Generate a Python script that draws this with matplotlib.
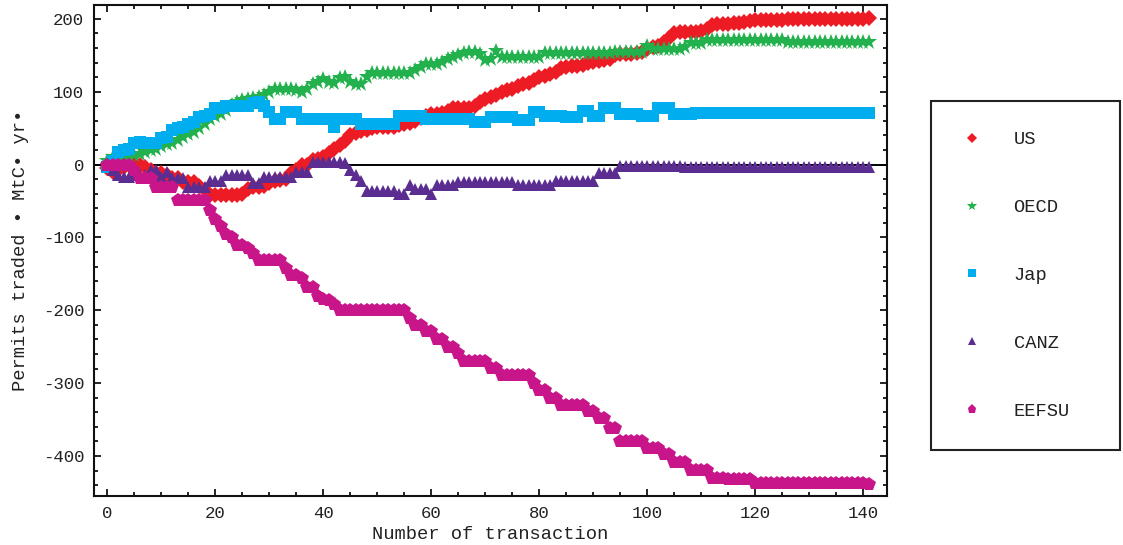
import matplotlib
matplotlib.use("Agg")
import matplotlib.pyplot as plt
from matplotlib.ticker import MultipleLocator
from matplotlib.lines import Line2D

# ---------------- data ----------------
transactions = list(range(142))

us = [-5, -10, -8, -3, 0, 0, 0, -3, -8, -12,
      -12, -15, -19, -19, -24, -24, -24, -30, -35, -42,
      -42, -42, -42, -42, -42, -40, -33, -31, -31, -30,
      -26, -22, -21, -20, -12, -8, 0, 0, 6, 8,
      10, 16, 22, 27, 32, 40, 43, 46, 48, 50,
      51, 51, 52, 52, 54, 55, 57, 60, 64, 67,
      70, 70, 71, 74, 77, 77, 77, 78, 80, 86,
      90, 93, 95, 99, 102, 104, 108, 110, 112, 116,
      120, 122, 124, 127, 132, 134, 135, 135, 136, 139,
      141, 142, 143, 145, 150, 152, 152, 152, 153, 154,
      158, 161, 163, 168, 174, 180, 182, 182, 182, 182,
      183, 186, 192, 193, 193, 193, 194, 194, 196, 197,
      198, 198, 198, 198, 198, 198, 200, 200, 200, 200,
      200, 200, 200, 200, 200, 200, 200, 200, 200, 200,
      200, 201]

oecd = [5, 10, 8, 10, 12, 13, 14, 17, 20, 22,
        25, 28, 30, 33, 38, 42, 45, 50, 55, 62,
        66, 70, 75, 82, 86, 88, 90, 92, 93, 96,
        100, 104, 104, 104, 104, 102, 99, 104, 110, 113,
        118, 113, 112, 119, 120, 113, 110, 111, 120, 125,
        125, 125, 125, 125, 125, 125, 125, 130, 134, 138,
        138, 138, 141, 145, 147, 150, 153, 154, 155, 152,
        143, 145, 156, 148, 148, 148, 148, 148, 148, 148,
        148, 153, 153, 153, 153, 153, 153, 153, 153, 153,
        153, 153, 153, 153, 155, 155, 155, 155, 155, 155,
        163, 158, 158, 158, 158, 158, 158, 162, 167, 167,
        167, 171, 171, 171, 171, 171, 171, 171, 171, 171,
        171, 171, 171, 171, 171, 171, 168, 168, 168, 168,
        168, 168, 168, 168, 168, 168, 168, 168, 168, 168,
        168, 168]

jap = [-3, 5, 17, 20, 22, 30, 31, 29, 29, 29,
       36, 38, 47, 50, 52, 56, 58, 65, 67, 70,
       77, 77, 81, 81, 81, 81, 81, 85, 86, 80,
       72, 63, 63, 72, 72, 72, 63, 63, 63, 63,
       63, 63, 52, 63, 63, 63, 63, 56, 56, 56,
       56, 56, 56, 56, 67, 67, 67, 67, 67, 63,
       63, 63, 63, 63, 63, 63, 63, 63, 58, 58,
       58, 65, 65, 65, 65, 65, 61, 61, 61, 72,
       72, 67, 67, 67, 67, 65, 65, 65, 74, 74,
       67, 67, 77, 77, 77, 70, 70, 70, 70, 67,
       67, 67, 77, 77, 77, 70, 70, 70, 70, 71,
       71, 71, 71, 71, 71, 71, 71, 71, 71, 71,
       71, 71, 71, 71, 71, 71, 71, 71, 71, 71,
       71, 71, 71, 71, 71, 71, 71, 71, 71, 71,
       71, 71]

canz = [0, -8, -15, -17, -17, -15, -15, -15, -8, -8,
        -17, -10, -19, -19, -19, -31, -31, -31, -31, -22,
        -22, -22, -15, -15, -15, -15, -15, -26, -26, -17,
        -17, -17, -17, -17, -17, -10, -10, -10, 4, 4,
        4, 4, 4, 4, 2, -8, -15, -22, -37, -37,
        -37, -37, -37, -37, -40, -40, -28, -33, -33, -33,
        -40, -28, -28, -28, -28, -24, -24, -24, -24, -24,
        -24, -24, -24, -24, -24, -24, -28, -28, -28, -28,
        -28, -28, -28, -22, -22, -22, -22, -22, -22, -22,
        -22, -12, -12, -12, -12, -2, -2, -2, -2, -2,
        -2, -2, -2, -2, -2, -2, -2, -4, -4, -4,
        -4, -4, -4, -4, -4, -4, -4, -4, -3, -4,
        -4, -4, -4, -4, -4, -4, -4, -4, -4, -4,
        -4, -4, -4, -4, -4, -4, -4, -4, -4, -4,
        -4, -4]

eefsu = [0, 0, 0, 0, 0, -8, -19, -19, -19, -31,
         -31, -31, -31, -49, -49, -49, -49, -49, -49, -62,
         -75, -85, -95, -100, -110, -110, -115, -122, -131, -131,
         -131, -131, -131, -142, -152, -152, -156, -168, -168, -181,
         -184, -186, -192, -200, -200, -200, -200, -200, -200, -200,
         -200, -200, -200, -200, -200, -200, -211, -220, -220, -229,
         -229, -239, -239, -250, -250, -259, -270, -270, -270, -270,
         -270, -279, -279, -289, -289, -289, -289, -289, -289, -300,
         -309, -309, -320, -320, -330, -330, -330, -330, -330, -339,
         -339, -348, -348, -361, -361, -380, -380, -380, -380, -380,
         -389, -389, -389, -398, -398, -409, -409, -409, -419, -419,
         -419, -419, -430, -430, -430, -432, -432, -432, -432, -432,
         -437, -437, -437, -437, -437, -437, -437, -437, -437, -437,
         -437, -437, -437, -437, -437, -437, -437, -437, -437, -437,
         -437, -438]

series_names = ["US", "OECD", "Jap", "CANZ", "EEFSU"]
x_ticks = [0, 20, 40, 60, 80, 100, 120, 140]
y_ticks = [-400, -300, -200, -100, 0, 100, 200]

# ---------------- styling ----------------
FONT = ["Liberation Mono", "DejaVu Sans Mono"]
plt.rcParams["font.family"] = FONT
plt.rcParams["axes.unicode_minus"] = False

colors = ["#ED1C24", "#22B14C", "#00AEEF", "#5C2D91", "#C8168A"]
markers = ["D", "*", "s", "^", "p"]
msizes = [8.0, 12.0, 8.6, 9.0, 10.0]
leg_sizes = [5.5, 7.5, 6.0, 6.0, 6.5]

fig = plt.figure(figsize=(11.23, 5.45), dpi=100)
ax = fig.add_axes([94 / 1123, 1 - 496 / 545, (887 - 94) / 1123, (496 - 5) / 545])

ax.axhline(0, color="black", lw=1.4, zorder=1.5)

all_series = [us, oecd, jap, canz, eefsu]
for vals, c, m, ms in zip(all_series, colors, markers, msizes):
    ax.plot(transactions, vals, linestyle="none", marker=m, markersize=ms,
            color=c, markeredgewidth=0, zorder=2)

ax.set_xlim(-2.5, 144.4)
ax.set_ylim(-455, 219)
ax.set_xticks(x_ticks)
ax.set_yticks(y_ticks)
ax.xaxis.set_minor_locator(MultipleLocator(5))
ax.yaxis.set_minor_locator(MultipleLocator(20))
ax.tick_params(which="both", direction="in", top=True, right=True,
               labelsize=12.5, labelcolor="#222222", width=1.2)
ax.tick_params(which="major", length=5, pad=7)
ax.tick_params(which="minor", length=3)
for sp in ax.spines.values():
    sp.set_linewidth(1.5)
    sp.set_color("#111111")

ax.set_xlabel("Number of transaction", fontsize=13.5, color="#222222", labelpad=4)
ax.set_ylabel("Permits traded \u2022 MtC\u2022 yr\u2022", fontsize=13.5,
              color="#222222", labelpad=10)

handles = [Line2D([], [], linestyle="none", marker=m, markersize=s,
                  color=c, markeredgewidth=0)
           for c, m, s in zip(colors, markers, leg_sizes)]
leg = fig.legend(handles, series_names, loc="upper left",
                 bbox_to_anchor=(931 / 1123, 1 - 101 / 545, (1120 - 931) / 1123, 0),
                 mode="expand", borderaxespad=0, fontsize=13.5,
                 labelspacing=2.71, borderpad=1.6, handlelength=1.2,
                 handletextpad=1.6, fancybox=False, framealpha=1,
                 edgecolor="#222222")
leg.get_frame().set_linewidth(1.5)
for t in leg.get_texts():
    t.set_color("#222222")

fig.savefig("out.png", dpi=100)
